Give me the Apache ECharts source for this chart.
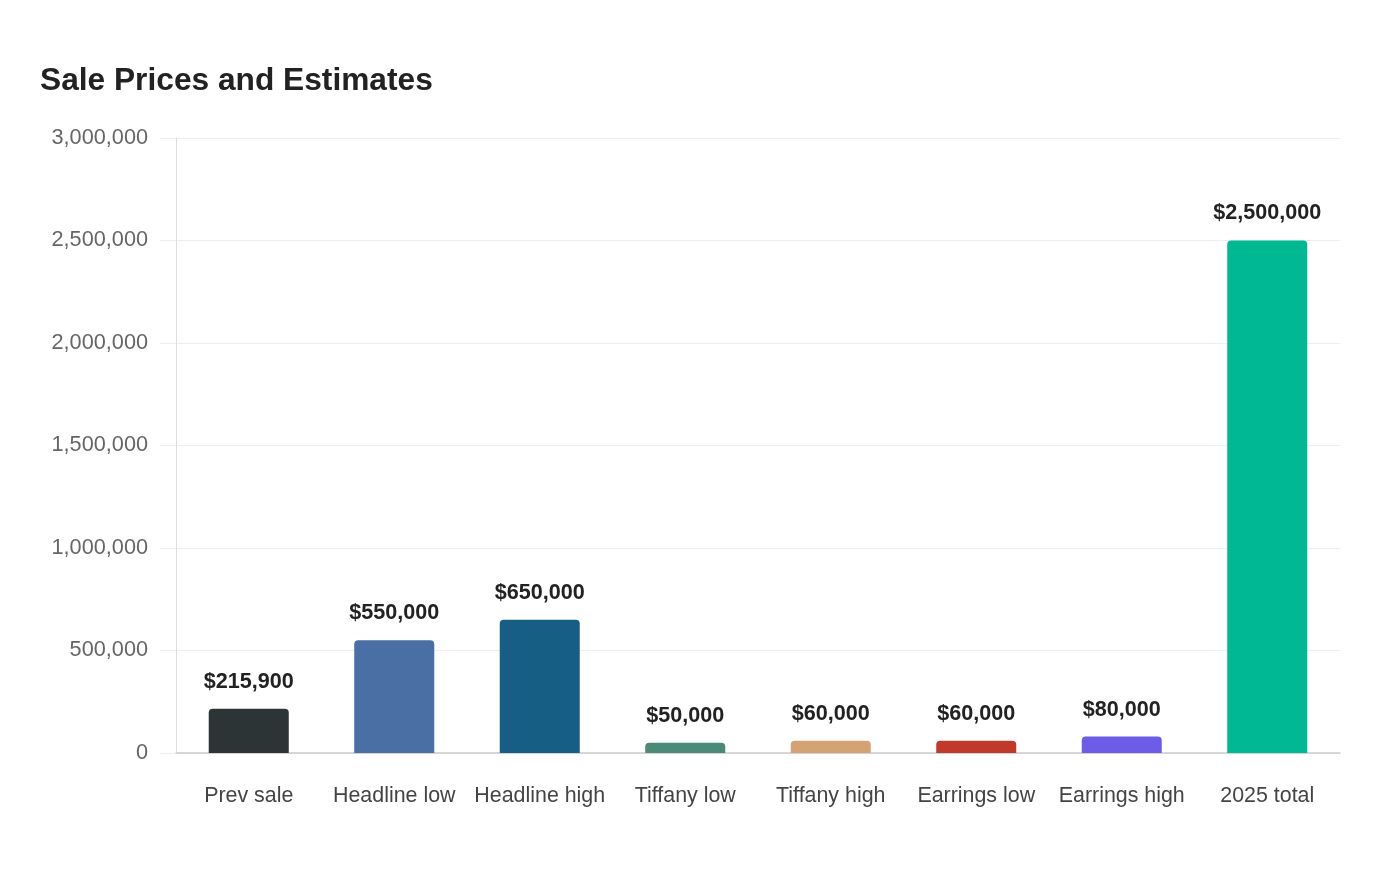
<!DOCTYPE html>
<html>
<head>
<meta charset="utf-8">
<script src="https://cdn.jsdelivr.net/npm/echarts@6/dist/echarts.min.js"></script>
<style>
html,body{margin:0;padding:0;background:#fff;}
#chart{width:1400px;height:880px;}
</style>
</head>
<body>
<div id="chart"></div>
<script>
const categories = ['Prev sale','Headline low','Headline high','Tiffany low','Tiffany high','Earrings low','Earrings high','2025 total'];
const values = [215900, 550000, 650000, 50000, 60000, 60000, 80000, 2500000];
const barColors = ['#2d3436','#4a6fa5','#175e85','#4a8b78','#d4a373','#c0392b','#6c5ce7','#00b894'];
const yTicks = [0, 500000, 1000000, 1500000, 2000000, 2500000, 3000000];

const FONT = '"Liberation Sans", Arial, sans-serif';
const fmt = v => v.toLocaleString('en-US');
const chart = echarts.init(document.getElementById('chart'));
chart.setOption({
  backgroundColor: '#fff',
  animation: false,
  textStyle: {fontFamily: FONT},
  title: {
    text: 'Sale Prices and Estimates',
    left: 35, top: 60,
    textStyle: {fontFamily: FONT, fontSize: 31.7, fontWeight: 'bold', color: '#222'}
  },
  grid: {left: 176, right: 60, top: 138, bottom: 127},
  xAxis: {
    type: 'category',
    data: categories,
    axisLine: {lineStyle: {color: '#ccc', width: 1.5}},
    axisTick: {show: false},
    axisLabel: {margin: 33, fontSize: 21.4, color: '#444', fontFamily: FONT, interval: 0}
  },
  yAxis: {
    type: 'value',
    min: yTicks[0], max: yTicks[yTicks.length-1], interval: 500000,
    axisLine: {show: true, lineStyle: {color: '#ddd'}},
    axisTick: {show: true, length: 16, lineStyle: {color: '#eee'}},
    splitLine: {lineStyle: {color: '#eee'}},
    axisLabel: {margin: 28, fontSize: 21.7, color: '#666', fontFamily: FONT, padding: [3, 0, 0, 0], formatter: v => fmt(v)}
  },
  series: [{
    type: 'bar',
    barWidth: '55%',
    data: values.map((v, i) => ({value: v, itemStyle: {color: barColors[i]}})),
    itemStyle: {borderRadius: [4,4,0,0]},
    label: {
      show: true, position: 'top', distance: 16,
      formatter: p => '$' + fmt(p.value),
      fontSize: 21.6, fontWeight: 'bold', color: '#222', fontFamily: FONT
    }
  }]
});
</script>
</body>
</html>
